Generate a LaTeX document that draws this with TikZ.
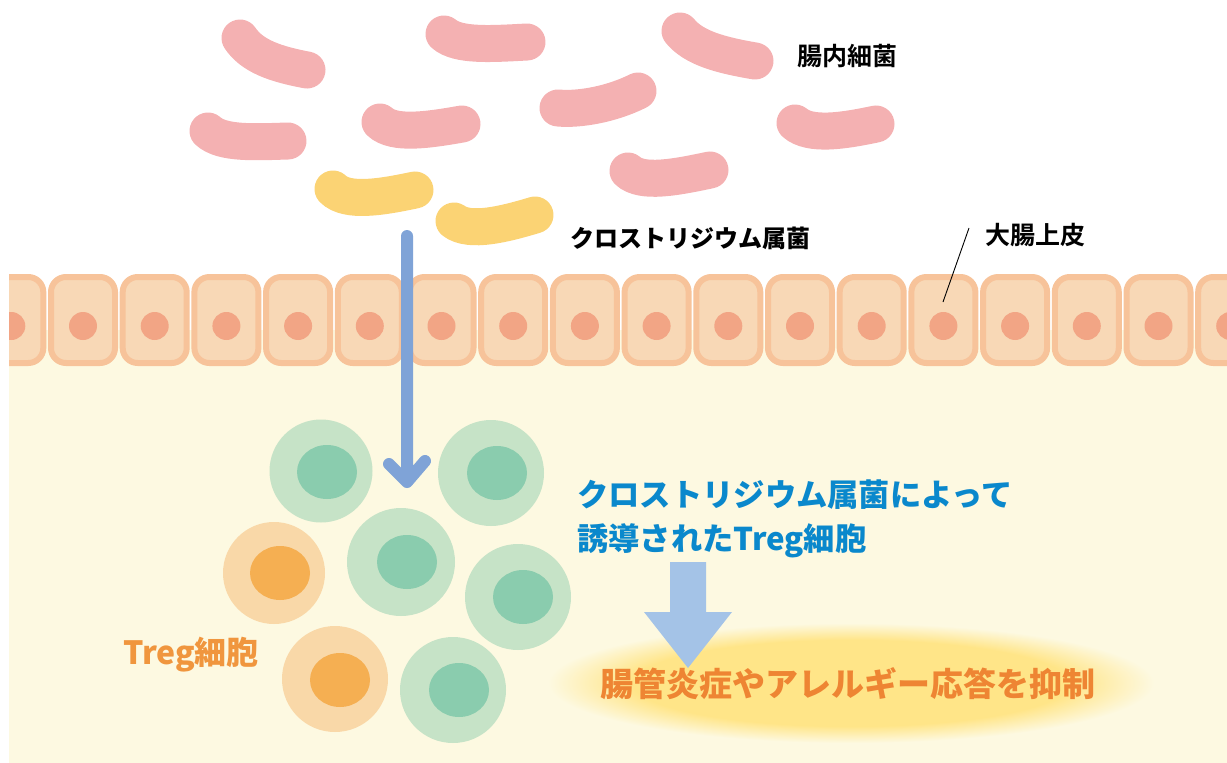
\documentclass[tikz,border=0pt]{standalone}
\usepackage{fontspec}
\newfontfamily\jpk{Noto Sans CJK JP Black}
\newfontfamily\jpb{Noto Sans CJK JP Bold}
\usetikzlibrary{shapes.geometric}

\definecolor{cream}{HTML}{FDF9E1}
\definecolor{bugpink}{HTML}{F4B1B2}
\definecolor{bugyellow}{HTML}{FBD374}
\definecolor{epiedge}{HTML}{F7C39A}
\definecolor{epifill}{HTML}{F8D8B6}
\definecolor{epinuc}{HTML}{F2A585}
\definecolor{tgreen}{HTML}{C6E3C7}
\definecolor{tgreennuc}{HTML}{8ACCAE}
\definecolor{torange}{HTML}{F9D8A8}
\definecolor{torangenuc}{HTML}{F5AF52}
\definecolor{pathblue}{HTML}{7FA3D7}
\definecolor{bigarrow}{HTML}{A4C3E7}
\definecolor{txtblue}{HTML}{0A88CC}
\definecolor{txtorange}{HTML}{F0963E}
\definecolor{txtsupp}{HTML}{EE8533}
\definecolor{glowin}{HTML}{FFE588}

\pgfdeclareradialshading{glow}{\pgfpoint{0bp}{0bp}}{%
  color(0bp)=(glowin); color(18bp)=(glowin); color(25bp)=(cream); color(50bp)=(cream)}

\tikzset{
  bug/.style={line width=37pt, line cap=round, draw=#1},
  epicell/.style={draw=epiedge, fill=epifill, line width=6pt, rounded corners=15pt,
    minimum width=64pt, minimum height=86pt, inner sep=0pt},
  epinucleus/.style={circle, fill=epinuc, minimum size=28pt, inner sep=0pt},
  tcell/.style={circle, fill=#1, minimum size=106pt, inner sep=0pt},
  tnuc/.style={ellipse, fill=#1, minimum width=60pt, minimum height=54pt, inner sep=0pt},
  label/.style={inner sep=0pt, anchor=center},
}

\begin{document}
\begin{tikzpicture}[x=1pt, y=-1pt]
\useasboundingbox (0,0) rectangle (1227,763);

% lamina propria background
\fill[cream] (9,330) rectangle (1227,763);

% glow behind the outcome text
\path[shading=glow] (851,683) ellipse [x radius=303, y radius=60];

% gut bacteria
\draw[bug=bugpink] (240,38) .. controls (252,56) and (275,64) .. (307,70);
\draw[bug=bugpink] (444,34) .. controls (458,46) and (490,44) .. (527,42);
\draw[bug=bugpink] (680,31) .. controls (694,48) and (720,55) .. (755,61);
\draw[bug=bugpink] (208,131) .. controls (222,144) and (255,142) .. (288,141);
\draw[bug=bugpink] (380,122) .. controls (394,135) and (428,130) .. (462,124);
\draw[bug=bugpink] (558,108) .. controls (580,110) and (612,104) .. (638,91);
\draw[bug=bugpink] (795,123) .. controls (810,136) and (843,131) .. (876,124);
\draw[bug=bugpink] (628,171) .. controls (642,184) and (677,177) .. (710,170);
% Clostridium
\draw[bug=bugyellow] (333,189) .. controls (347,203) and (382,197) .. (415,190);
\draw[bug=bugyellow] (454,221) .. controls (470,233) and (505,224) .. (535,215);

% colonic epithelium
\clip (9,0) rectangle (1227,763);
\foreach \i in {-1,...,16} {
  \node[epicell] (epi\i) at ({83+71.7*\i},320) {};
  \node[epinucleus] (epin\i) at ({83+71.7*\i},326) {};
}

% labels above the epithelium
\node[label, font=\jpb\fontsize{25}{28}\selectfont] (lblflora) at (847,56) {腸内細菌};
\node[label, font=\jpk\fontsize{24}{28}\selectfont] (lblclos) at (690,238) {クロストリジウム属菌};
\node[label, font=\jpb\fontsize{25}{28}\selectfont] (lblepi) at (1035,235) {大腸上皮};
\coordinate (epitick) at (943,302);
\draw[line width=0.9pt] (969,228) -- (epitick);

% Treg cells
\node[tcell=tgreen, minimum size=103pt] (g1) at (321,471) {};
\node[tnuc=tgreennuc] (g1n) at (327,472) {};
\node[tcell=tgreen] (g2) at (491,473) {};
\node[tnuc=tgreennuc] (g2n) at (497,473) {};
\node[tcell=tgreen, minimum size=108pt] (g3) at (401,562) {};
\node[tnuc=tgreennuc] (g3n) at (407,562) {};
\node[tcell=tgreen] (g4) at (518,597) {};
\node[tnuc=tgreennuc] (g4n) at (523,597) {};
\node[tcell=tgreen] (g5) at (453,690) {};
\node[tnuc=tgreennuc] (g5n) at (459,690) {};
\node[tcell=torange, minimum size=102pt] (o1) at (274,573) {};
\node[tnuc=torangenuc] (o1n) at (280,573) {};
\node[tcell=torange] (o2) at (335,679) {};
\node[tnuc=torangenuc] (o2n) at (340,680) {};

% induction path of Clostridium through the epithelium
\coordinate (pathtop) at (407,236);
\coordinate (pathtip) at (407,482);
\coordinate (armL) at (389,464);
\coordinate (armR) at (425,461);
\draw[pathblue, line width=12pt, line cap=round, line join=round]
  (pathtop) -- (pathtip) (armL) -- (pathtip) -- (armR);

% texts in the lamina propria
\node[label, font=\jpk\fontsize{32}{34}\selectfont, text=txtorange] (lbltreg) at (191,655) {Treg細胞};
\node[inner sep=0pt, anchor=north west, align=left, text=txtblue,
  font=\jpk\fontsize{31.3}{44}\selectfont] (lblinduced) at (577,480)
  {クロストリジウム属菌によって\\誘導されたTreg細胞};

% outcome arrow
\coordinate (bigtop) at (688,562);
\node[label, font=\jpk\fontsize{33}{36}\selectfont, text=txtsupp] (lblsupp) at (848,684)
  {腸管炎症やアレルギー応答を抑制};
\fill[bigarrow] (670,562) -- (706,562) -- (706,612) -- (732,612) -- (688,668)
  -- (644,612) -- (670,612) -- cycle;
\end{tikzpicture}
\end{document}
